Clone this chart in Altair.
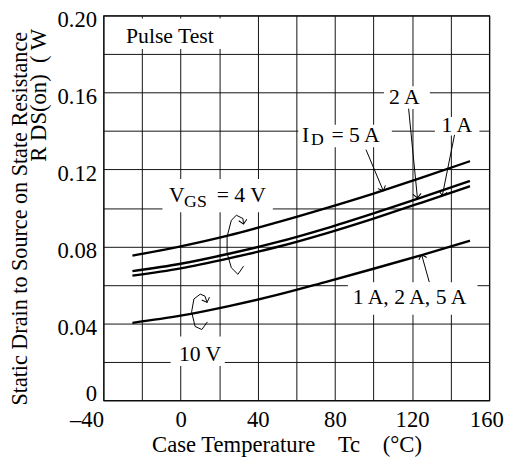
import altair as alt
import pandas as pd

FONT = "Liberation Serif"

# ---- curve data ----
temps = [-25, 0, 25, 50, 75, 100, 125, 150]
r_4v_5a = [0.0752, 0.0800, 0.0857, 0.0925, 0.0998, 0.1075, 0.1157, 0.1243]
r_4v_2a = [0.0672, 0.0710, 0.0762, 0.0822, 0.0893, 0.0972, 0.1055, 0.1140]
r_4v_1a = [0.0648, 0.0686, 0.0738, 0.0797, 0.0867, 0.0945, 0.1028, 0.1113]
r_10v = [0.0403, 0.0440, 0.0490, 0.0548, 0.0615, 0.0684, 0.0755, 0.0830]

# ---- axes ----
x_grid_values = [-40, -20, 0, 20, 40, 60, 80, 100, 120, 140, 160]
x_label_values = [-40, 0, 40, 80, 120, 160]
x_label_texts = ["\u201340", "0", "40", "80", "120", "160"]
y_grid_values = [0, 0.02, 0.04, 0.06, 0.08, 0.10, 0.12, 0.14, 0.16, 0.18, 0.20]
y_label_values = [0, 0.04, 0.08, 0.12, 0.16, 0.20]
y_label_texts = ["0", "0.04", "0.08", "0.12", "0.16", "0.20"]
NB = "\u00a0"
x_title = f"Case Temperature{NB*4}Tc{NB*4}(\u00b0C)"
y_title = "Static Drain to Source on State Resistance"
y_title2 = f"R DS(on){NB*2}( W"

# ---- annotation texts (data units) ----
txt_label = ["Pulse Test", "V", "GS", "= 4 V", "I", "D", "= 5 A", "2 A", "1 A",
             "1 A, 2 A, 5 A", "10 V"]
txt_x = [-28.3, -6.0, 1.8, 18.7, 62.9, 67.6, 78.2, 108.0, 135.2, 89.2, -0.9]
txt_y = [0.1857, 0.1030, 0.1004, 0.1030, 0.1345, 0.1328, 0.1345, 0.1541, 0.1396,
         0.0501, 0.0203]
txt_size = [22, 22, 18, 22, 22, 18, 22, 22, 22, 22, 22]

# white boxes behind labels (data units)
box_x1 = [-33.4, -9.4, 61.0, 105.4, 131.8, 86.7, -5.2]
box_x2 = [24.8, 47.8, 109.5, 129.2, 154.9, 153.9, 22.9]
box_y1 = [0.1826, 0.0977, 0.1315, 0.1514, 0.1376, 0.0445, 0.0179]
box_y2 = [0.1985, 0.1151, 0.1432, 0.1632, 0.1473, 0.0614, 0.0332]

# straight leader arrows: start -> tip
arr_x0 = [96.1, 118.2, 142.0, 128.9]
arr_y0 = [0.1303, 0.1516, 0.1380, 0.0615]
arr_x1 = [105.05, 122.76, 135.66, 124.95]
arr_y1 = [0.1089, 0.1052, 0.1064, 0.0757]
arr_ang = [67, 84, 101, 254]

# curved rotation arrows
arc4_x = [32.6, 29.7, 26.3, 24.1, 24.1, 26.3, 28.9, 32.3, 32.6]
arc4_y = [0.0697, 0.0655, 0.0689, 0.0766, 0.0851, 0.0936, 0.0962, 0.0945, 0.0916]
arc10_x = [13.9, 11.0, 7.5, 5.7, 6.9, 10.2, 12.6, 13.7]
arc10_y = [0.0408, 0.0368, 0.0384, 0.0460, 0.0527, 0.0552, 0.0542, 0.0509]
arc_head_x = [32.6, 13.7]
arc_head_y = [0.0916, 0.0509]
arc_head_ang = [80, 70]

# ---- build tables ----
rows = []
for name, vals in [("4V 5A", r_4v_5a), ("4V 2A", r_4v_2a), ("4V 1A", r_4v_1a), ("10V", r_10v)]:
    for i, (t, v) in enumerate(zip(temps, vals)):
        rows.append({"x": t, "y": v, "s": name, "o": i})
curves = pd.DataFrame(rows)

texts = pd.DataFrame({"x": txt_x, "y": txt_y, "t": txt_label, "fs": txt_size})
boxes = pd.DataFrame({"x": box_x1, "x2": box_x2, "y": box_y1, "y2": box_y2})

arows = []
for i in range(len(arr_x0)):
    arows.append({"x": arr_x0[i], "y": arr_y0[i], "id": f"a{i}", "o": 0})
    arows.append({"x": arr_x1[i], "y": arr_y1[i], "id": f"a{i}", "o": 1})
for i, (a, b) in enumerate(zip(arc4_x, arc4_y)):
    arows.append({"x": a, "y": b, "id": "arc4", "o": i})
for i, (a, b) in enumerate(zip(arc10_x, arc10_y)):
    arows.append({"x": a, "y": b, "id": "arc10", "o": i})
arrows = pd.DataFrame(arows)

heads = pd.DataFrame({
    "x": arr_x1 + arc_head_x,
    "y": arr_y1 + arc_head_y,
    "ang": arr_ang + arc_head_ang,
})


def label_expr(vals, labels):
    expr = "''"
    for v, t in reversed(list(zip(vals, labels))):
        expr = f"abs(datum.value - ({v})) < 1e-6 ? '{t}' : ({expr})"
    return expr


x_scale = alt.Scale(domain=[-40, 160], nice=False, zero=False)
y_scale = alt.Scale(domain=[0, 0.2], nice=False, zero=False)

x_axis = alt.Axis(
    values=x_grid_values, labelExpr=label_expr(x_label_values, x_label_texts),
    grid=True, gridColor="#111", gridWidth=1, gridOpacity=1,
    domain=False, ticks=False, tickSize=0,
    labelFont=FONT, labelFontSize=23, labelColor="black", labelPadding=9,
    labelAlign={"condition": {"test": "datum.value == -40", "value": "right"}, "value": "center"},
    labelOffset={"condition": {"test": "datum.value == 160", "value": -3}, "value": 0},
    labelBaseline="top", labelFlush=False, labelOverlap=False, labelBound=False,
    title=x_title, titleFont=FONT, titleFontSize=23, titleFontWeight="normal",
    titleColor="black", titleX=186, titleY=52, titleAlign="center",
    titleBaseline="alphabetic",
)
y_axis = alt.Axis(
    values=y_grid_values, labelExpr=label_expr(y_label_values, y_label_texts),
    grid=True, gridColor="#111", gridWidth=1, gridOpacity=1,
    domain=False, ticks=False, tickSize=0,
    labelFont=FONT, labelFontSize=23, labelColor="black", labelPadding=7,
    labelBaseline={"condition": {"test": "datum.value < 0.001", "value": "alphabetic"}, "value": "middle"},
    labelOffset={"condition": {"test": "datum.value < 0.001", "value": 0}, "value": 4},
    labelFlush=False, labelOverlap=False, labelBound=False,
    title=y_title, titleFont=FONT, titleFontSize=22.5, titleFontWeight="normal",
    titleColor="black", titleX=-78, titleY=206, titleAngle=270, titleAlign="center",
    titleBaseline="alphabetic",
)

X = alt.X("x:Q", scale=x_scale, axis=x_axis)
Y = alt.Y("y:Q", scale=y_scale, axis=y_axis)

box_layer = alt.Chart(boxes).mark_rect(color="white", opacity=1).encode(
    x=X, x2="x2:Q", y=Y, y2="y2:Q")

curve_layer = alt.Chart(curves).mark_line(color="black", strokeWidth=2.4,
                                          interpolate="monotone").encode(
    x=X, y=Y, detail="s:N", order="o:Q")

arrow_layer = alt.Chart(arrows).mark_line(color="black", strokeWidth=1).encode(
    x=X, y=Y, detail="id:N", order="o:Q")

head_layer = alt.Chart(heads).mark_point(
    shape="M-1,-1L0,0L-1,1", filled=False, color="black", strokeWidth=1,
    size=70, opacity=1).encode(
    x=X, y=Y, angle=alt.Angle("ang:Q", scale=None))

text_layer = alt.Chart(texts).mark_text(
    font=FONT, color="black", align="left", baseline="alphabetic").encode(
    x=X, y=Y, text="t:N", size=alt.Size("fs:Q", scale=None))

ytitle2_layer = alt.Chart(pd.DataFrame({"t": [y_title2]})).mark_text(
    font=FONT, fontSize=23, color="black", angle=270, align="center",
    baseline="alphabetic").encode(
    x=alt.value(-58), y=alt.value(81), text="t:N")

chart = alt.layer(
    box_layer, curve_layer, arrow_layer, head_layer, text_layer, ytitle2_layer
).properties(
    width=392, height=391,
    autosize=alt.AutoSizeParams(type="none"),
    padding={"left": 97, "top": 4, "right": 16, "bottom": 60},
    background="white",
).configure_view(stroke="black", strokeWidth=1.2)

chart.save("out.html", embed_options={"renderer": "svg", "actions": False})
